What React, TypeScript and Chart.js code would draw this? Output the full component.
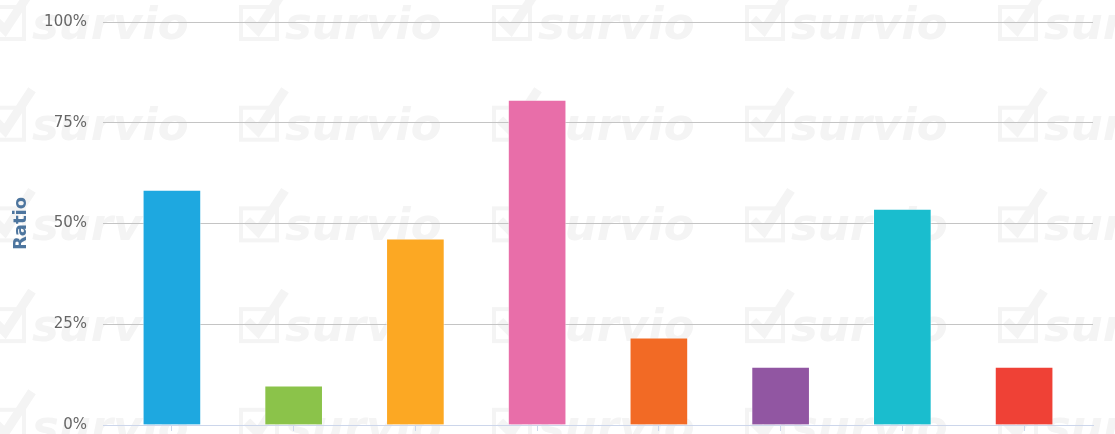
import React, { useEffect, useRef } from "react";
import { Chart, registerables } from "chart.js";

Chart.register(...registerables);

const categories = ["1", "2", "3", "4", "5", "6", "7", "8"];
const ratioValues = [58.3, 9.7, 46.2, 80.6, 21.6, 14.4, 53.6, 14.4];
const barColors = ["#1ea8e0", "#8bc34a", "#fca823", "#e86ea9", "#f26a25", "#9156a2", "#1abdce", "#ef4136"];
const yTicks = [0, 25, 50, 75, 100];
const yTitle = "Ratio";
const watermarkText = "survio";

const watermarkPlugin = {
  id: "watermark",
  beforeDraw(chart: any) {
    const ctx = chart.ctx;
    ctx.save();
    ctx.fillStyle = "#ffffff";
    ctx.fillRect(0, 0, chart.width, chart.height);
    const color = "#f4f4f4";
    for (let r = 0; r < 5; r++) {
      const base = 39 + 100.7 * r;
      for (let c = 0; c < 6; c++) {
        const cx = 237 - 253 + 253 * c;
        ctx.strokeStyle = color;
        ctx.lineWidth = 4;
        ctx.strokeRect(cx + 4, base - 32, 36, 32);
        ctx.lineWidth = 9;
        ctx.lineCap = "butt";
        ctx.lineJoin = "miter";
        ctx.beginPath();
        ctx.moveTo(cx + 10, base - 20);
        ctx.lineTo(cx + 21, base - 9);
        ctx.lineTo(cx + 48, base - 50);
        ctx.stroke();
        ctx.fillStyle = color;
        ctx.font = "italic bold 45px 'DejaVu Sans'";
        ctx.textBaseline = "alphabetic";
        ctx.fillText(watermarkText, cx + 48, base);
      }
    }
    ctx.restore();
  },
};

export default function App() {
  const ref = useRef<HTMLCanvasElement | null>(null);
  useEffect(() => {
    if (!ref.current) return;
    const chart = new Chart(ref.current, {
      type: "bar",
      data: {
        datasets: [
          {
            data: categories.map((c, i) => ({ x: i, y: ratioValues[i] })),
            backgroundColor: barColors,
            borderColor: "rgba(255,255,255,0.45)",
            borderWidth: 1,
            barThickness: 58,
          },
        ],
      },
      options: {
        animation: false,
        responsive: false,
        maintainAspectRatio: false,
        layout: { padding: { top: 22, right: 22, bottom: 3, left: 0 } },
        plugins: { legend: { display: false }, tooltip: { enabled: false } },
        scales: {
          x: {
            type: "linear",
            min: -0.566,
            max: 7.566,
            offset: false,
            afterBuildTicks: (scale: any) => {
              scale.ticks = categories.map((c, i) => ({ value: i }));
            },
            afterFit: (scale: any) => {
              scale.height = 6;
              scale.paddingLeft = 0;
              scale.paddingRight = 0;
            },
            ticks: { display: false },
            grid: {
              display: true,
              offset: false,
              drawOnChartArea: false,
              drawTicks: true,
              tickLength: 6,
              color: "#ccd6eb",
              lineWidth: 1,
            },
            border: { display: true, color: "#ccd6eb", width: 1 },
          },
          y: {
            min: 0,
            max: 100,
            afterBuildTicks: (scale: any) => {
              scale.ticks = yTicks.map((v) => ({ value: v }));
            },
            afterFit: (scale: any) => {
              scale.width = 103;
              scale.paddingTop = 0;
              scale.paddingBottom = 0;
            },
            ticks: {
              padding: 16,
              color: "#666666",
              font: { family: "'DejaVu Sans'", size: 15 },
              callback: (v: any) => v + "%",
            },
            grid: { color: "#c4c4c4", lineWidth: 1, drawTicks: false },
            border: { display: false },
            title: {
              display: true,
              text: yTitle,
              color: "#4d759e",
              font: { family: "'DejaVu Sans'", size: 18, weight: "bold" },
              padding: { top: 11, bottom: 0 },
            },
          },
        },
      },
      plugins: [watermarkPlugin],
    });
    return () => chart.destroy();
  }, []);
  return (
    <div style={{ position: "fixed", left: 0, top: 0, width: 1115, height: 434 }}>
      <canvas ref={ref} width={1115} height={434} style={{ display: "block" }} />
    </div>
  );
}
